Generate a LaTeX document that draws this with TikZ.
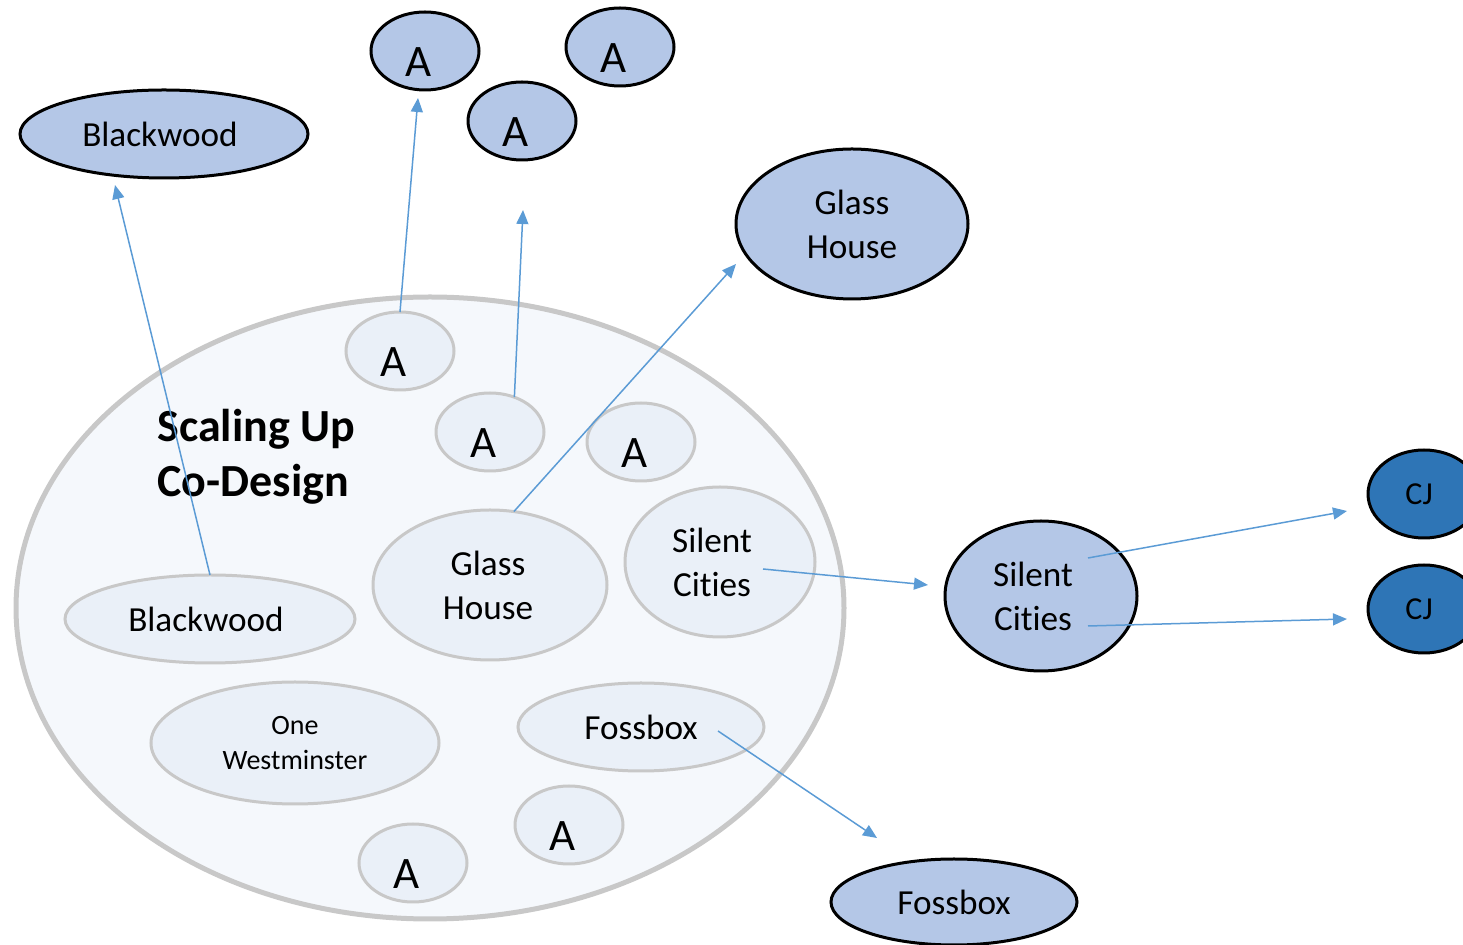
\documentclass[tikz,border=0pt]{standalone}
\usepackage{fontspec}
\setmainfont{Carlito}[Ligatures=NoCommon]
\usetikzlibrary{shapes.geometric,arrows.meta,calc}
\definecolor{lblue}{HTML}{B4C7E7}
\definecolor{dblue}{HTML}{2E75B6}
\definecolor{bigfill}{HTML}{F5F8FC}
\definecolor{innerfill}{HTML}{EAF0F8}
\definecolor{ringgray}{HTML}{C8C8C8}
\definecolor{arrowblue}{HTML}{5B9BD5}
\tikzset{
  ell/.style={ellipse, inner sep=0pt, outer sep=0pt, align=center, font=\fontsize{17.6}{22}\selectfont},
  outerell/.style={ell, draw=black, line width=1.5pt, fill=lblue},
  innerell/.style={ell, draw=ringgray, line width=1.5pt, fill=innerfill},
  cjell/.style={ell, draw=black, line width=1.5pt, fill=dblue, font=\fontsize{16}{19}\selectfont},
  atext/.style={font=\fontsize{22.5}{27}\selectfont, text height=25.5pt, text depth=0pt, minimum width=54pt, minimum height=39pt},
  conn/.style={draw=arrowblue, line width=0.75pt, -{Triangle[length=7pt,width=6pt]}},
}
\newcommand{\lsh}[1]{\hspace*{#1}}
\begin{document}
\begin{tikzpicture}[x=0.5pt,y=-0.5pt]
\useasboundingbox (0,0) rectangle (1463,945);
\clip (0,0) rectangle (1463,945);
% big container
\node[ellipse, draw=ringgray, line width=2.5pt, fill=bigfill, minimum width=414pt, minimum height=311pt, inner sep=0pt] (big) at (430,608) {};
\node[anchor=north west, inner sep=0pt, align=left, font=\bfseries\fontsize{23}{27.5}\selectfont] (title) at (157,409) {Scaling Up\\Co-Design};
% outer nodes
\node[outerell, minimum width=144pt, minimum height=44pt] (bwtop) at (164,134) {Blackwood\lsh{4pt}};
\node[outerell, atext] (atop1) at (425,51) {A\lsh{6pt}};
\node[outerell, atext] (atop2) at (620,47) {A\lsh{6pt}};
\node[outerell, atext] (atop3) at (522,121) {A\lsh{6pt}};
\node[outerell, minimum width=116pt, minimum height=75pt] (ghtop) at (852,224) {Glass\\House};
\node[outerell, minimum width=96pt, minimum height=75pt] (scout) at (1041,596) {Silent\lsh{8pt}\\Cities\lsh{8pt}};
\node[cjell, minimum width=56pt, minimum height=44pt] (cj1) at (1424,494) {CJ\lsh{5pt}};
\node[cjell, minimum width=56pt, minimum height=44pt] (cj2) at (1424,609) {CJ\lsh{5pt}};
\node[outerell, minimum width=123pt, minimum height=43pt] (fbout) at (954,902) {Fossbox};
% inner nodes
\node[innerell, atext] (ain1) at (400,351) {A\lsh{6pt}};
\node[innerell, atext] (ain2) at (490,432) {A\lsh{6pt}};
\node[innerell, atext] (ain3) at (641,442) {A\lsh{6pt}};
\node[innerell, minimum width=117pt, minimum height=75pt] (ghin) at (490,585) {Glass\lsh{2pt}\\House\lsh{2pt}};
\node[innerell, minimum width=95pt, minimum height=75pt] (scin) at (720,562) {Silent\lsh{8pt}\\Cities\lsh{8pt}};
\node[innerell, minimum width=145pt, minimum height=44pt] (bwin) at (210,619) {Blackwood\lsh{4pt}};
\node[innerell, minimum width=144pt, minimum height=61pt, font=\fontsize{14}{17.5}\selectfont] (ow) at (295,743) {One\\Westminster};
\node[innerell, minimum width=123pt, minimum height=44pt] (fbin) at (641,727) {Fossbox};
\node[innerell, atext] (ain4) at (569,825) {A\lsh{6pt}};
\node[innerell, atext] (ain5) at (413,863) {A\lsh{6pt}};
% arrow tips
\coordinate (t1) at (115,185);
\coordinate (t2) at (418,98);
\coordinate (t3) at (523,210);
\coordinate (t4) at (736,264);
\coordinate (t5) at (928,585);
\coordinate (t6) at (1347,511);
\coordinate (t7) at (1347,619);
\coordinate (t8) at (877,838);
% connectors
\draw[conn] (bwin.north) -- (t1);
\draw[conn] (ain1.north) -- (t2);
\draw[conn] (ain2.55) -- (t3);
\draw[conn] (ghin.72) -- (t4);
\draw[conn] ($(scin)+(43,7)$) -- (t5);
\draw[conn] ($(scout)+(47,-38)$) -- (t6);
\draw[conn] ($(scout)+(47,30)$) -- (t7);
\draw[conn] ($(fbin)+(77,4)$) -- (t8);
\end{tikzpicture}
\end{document}
